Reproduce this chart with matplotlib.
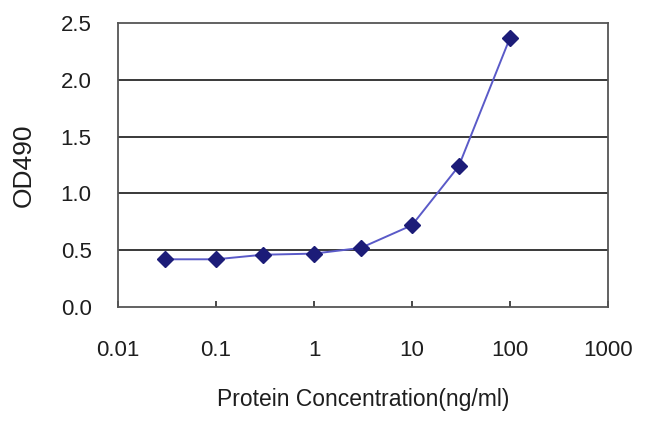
import matplotlib
matplotlib.use("Agg")
import matplotlib.pyplot as plt

# protein concentration (ng/ml) and measured OD490
conc = [0.03, 0.1, 0.3, 1, 3, 10, 30, 100]
od490 = [0.42, 0.42, 0.46, 0.47, 0.52, 0.72, 1.24, 2.37]

x_ticks = [0.01, 0.1, 1, 10, 100, 1000]
x_tick_labels = ["0.01", "0.1", "1", "10", "100", "1000"]
y_ticks = [0.0, 0.5, 1.0, 1.5, 2.0, 2.5]
y_tick_labels = ["0.0", "0.5", "1.0", "1.5", "2.0", "2.5"]

plt.rcParams['font.family'] = ['Liberation Sans', 'DejaVu Sans']

fig = plt.figure(figsize=(6.5, 4.21), dpi=100)
ax = fig.add_axes([118 / 650, 1 - 307 / 421, 490 / 650, 284 / 421])

ax.set_xscale('log')
ax.set_xlim(0.01, 1000)
ax.set_ylim(0, 2.5)

for y in y_ticks[1:-1]:
    ax.axhline(y, color='#2a2a2a', lw=1.3, zorder=1)

ax.plot(conc, od490, color='#5a5ac8', lw=1.4, zorder=2)
ax.plot(conc, od490, 'D', color='#1c1c78', markersize=8, zorder=3)

ax.set_xticks(x_ticks)
ax.set_xticklabels(x_tick_labels)
ax.minorticks_off()
ax.set_yticks(y_ticks)
ax.set_yticklabels(y_tick_labels)

ax.tick_params(axis='x', direction='in', length=4, width=1.2, color='#2a2a2a',
               pad=24, labelsize=16, labelcolor='#1e1e1e')
ax.tick_params(axis='y', length=0, pad=19, labelsize=16, labelcolor='#1e1e1e')

for s in ax.spines.values():
    s.set_color('#555555')
    s.set_linewidth(1.3)

ax.set_xlabel("Protein Concentration(ng/ml)", fontsize=16.5, color='#1e1e1e', labelpad=19.5)
ax.set_ylabel("OD490", fontsize=19, color='#1e1e1e', labelpad=18)

fig.savefig("out.png", dpi=100)
